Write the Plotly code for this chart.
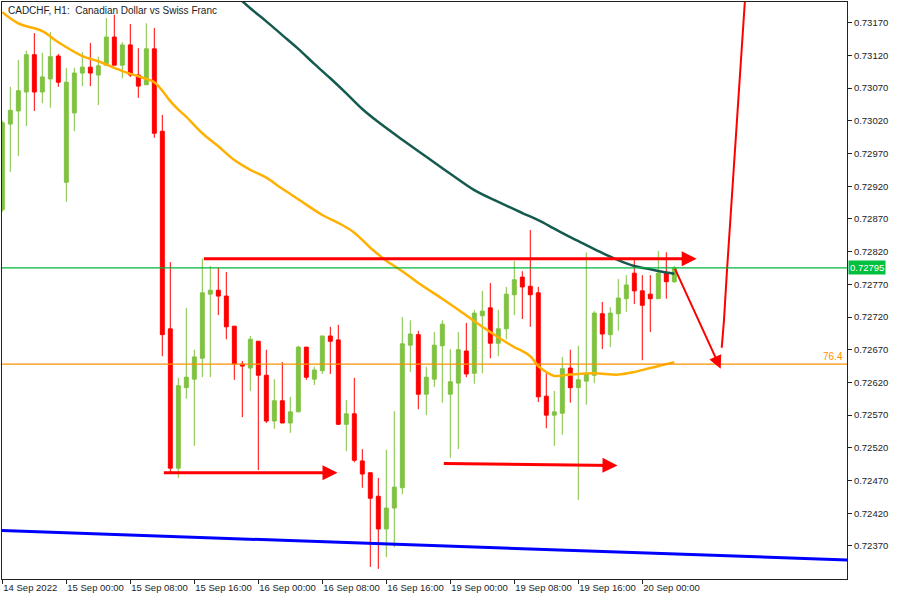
import plotly.graph_objects as go

# ---- data (bar index 0 = 14 Sep 2022 16:00, H1 bars) ----
bar_open = [0.72884,0.73015,0.73035,0.73064,0.73121,0.73064,0.73084,0.73119,0.72926,0.73032,
            0.73093,0.73102,0.73090,0.73105,0.73148,0.73105,0.73136,0.73090,0.73075,0.73130,
            0.73004,0.72702,0.72489,0.72612,0.72625,0.72657,0.72755,0.72761,0.72752,0.72706,
            0.72648,0.72642,0.72683,0.72631,0.72561,0.72592,0.72558,0.72575,0.72674,0.72625,
            0.72638,0.72691,0.72685,0.72556,0.72572,0.72500,0.72482,0.72446,0.72396,0.72428,
            0.72459,0.72677,0.72693,0.72602,0.72625,0.72676,0.72602,0.72619,0.72668,0.72634,
            0.72722,0.72734,0.72680,0.72702,0.72754,0.72781,0.72767,0.72757,0.72599,0.72570,
            0.72573,0.72642,0.72612,0.72622,0.72631,0.72725,0.72693,0.72725,0.72748,0.72787,
            0.72760,0.72755,0.72748,0.72787,0.72774]
bar_high = [0.73020,0.73072,0.73113,0.73127,0.73154,0.73124,0.73156,0.73122,0.73101,0.73101,
            0.73125,0.73139,0.73118,0.73177,0.73182,0.73140,0.73168,0.73131,0.73169,0.73162,
            0.73029,0.72804,0.72627,0.72734,0.72670,0.72809,0.72798,0.72795,0.72789,0.72706,
            0.72653,0.72691,0.72683,0.72670,0.72625,0.72651,0.72598,0.72676,0.72674,0.72644,
            0.72691,0.72705,0.72708,0.72593,0.72627,0.72518,0.72482,0.72474,0.72517,0.72576,
            0.72720,0.72715,0.72699,0.72644,0.72697,0.72715,0.72671,0.72697,0.72711,0.72731,
            0.72760,0.72772,0.72731,0.72766,0.72806,0.72790,0.72853,0.72766,0.72634,0.72607,
            0.72659,0.72670,0.72676,0.72819,0.72729,0.72743,0.72735,0.72778,0.72784,0.72807,
            0.72784,0.72784,0.72821,0.72819,0.72798]
bar_low = [0.72881,0.72942,0.72966,0.73012,0.73035,0.73047,0.73040,0.73072,0.72896,0.73004,
           0.73073,0.73073,0.73044,0.73104,0.73105,0.73085,0.73087,0.73055,0.73075,0.72994,
           0.72660,0.72482,0.72474,0.72595,0.72523,0.72628,0.72628,0.72723,0.72686,0.72624,
           0.72567,0.72607,0.72486,0.72558,0.72549,0.72558,0.72543,0.72575,0.72624,0.72616,
           0.72633,0.72633,0.72555,0.72515,0.72498,0.72459,0.72338,0.72335,0.72353,0.72368,
           0.72449,0.72636,0.72579,0.72570,0.72613,0.72589,0.72505,0.72518,0.72628,0.72618,
           0.72634,0.72657,0.72660,0.72686,0.72723,0.72717,0.72705,0.72590,0.72550,0.72523,
           0.72540,0.72589,0.72440,0.72586,0.72619,0.72671,0.72674,0.72699,0.72728,0.72740,
           0.72654,0.72697,0.72748,0.72748,0.72772]
bar_close = [0.73017,0.73036,0.73066,0.73121,0.73064,0.73087,0.73118,0.73079,0.73079,0.73093,
             0.73102,0.73093,0.73104,0.73148,0.73105,0.73136,0.73090,0.73073,0.73130,0.73001,
             0.72693,0.72489,0.72615,0.72628,0.72659,0.72757,0.72761,0.72752,0.72705,0.72648,
             0.72645,0.72686,0.72631,0.72561,0.72592,0.72558,0.72575,0.72674,0.72628,0.72639,
             0.72691,0.72683,0.72556,0.72572,0.72501,0.72480,0.72443,0.72396,0.72428,0.72460,
             0.72679,0.72694,0.72602,0.72628,0.72677,0.72709,0.72621,0.72670,0.72633,0.72726,
             0.72729,0.72680,0.72702,0.72755,0.72777,0.72766,0.72754,0.72598,0.72570,0.72575,
             0.72641,0.72612,0.72624,0.72633,0.72726,0.72694,0.72726,0.72749,0.72769,0.72760,
             0.72738,0.72748,0.72787,0.72774,0.72795]

ma_fast_idx = [0,2,5,7,10,12,15,17,18,19,20,21,22,23,25,27,29,31,33,35,37,40,42,44,46,48,50,52,
               55,57,60,62,64,65,66,67,68,69,71,74,77,79,81,83,84]
ma_fast_val = [0.73186,0.73169,0.73157,0.73140,0.73119,0.73111,0.73096,0.73088,0.73084,0.73079,
               0.73066,0.73050,0.73037,0.73026,0.73001,0.72981,0.72960,0.72945,0.72933,0.72916,
               0.72900,0.72876,0.72864,0.72849,0.72826,0.72806,0.72790,0.72772,0.72748,0.72731,
               0.72705,0.72689,0.72674,0.72668,0.72660,0.72645,0.72636,0.72630,0.72632,0.72634,
               0.72632,0.72636,0.72642,0.72648,0.72651]

ma_slow_idx = [29,31,33,35,37,39,41,43,45,47,50,53,56,59,62,65,67,69,71,73,75,77,79,81,83,84]
ma_slow_val = [0.73214,0.73192,0.73172,0.73151,0.73130,0.73107,0.73085,0.73062,0.73038,0.73018,
               0.72991,0.72965,0.72939,0.72914,0.72896,0.72879,0.72868,0.72855,0.72842,0.72830,
               0.72818,0.72807,0.72798,0.72793,0.72788,0.72786]

trend_idx = [-1, 107]
trend_val = [0.72394, 0.72348]

current_price = 0.72795
fib_level = 0.72648
fib_label = "76.4"

# user-drawn arrows: (tail_idx, tail_price, head_idx, head_price)
arrow_top = (25, 0.72809, 86.8, 0.72809)
arrow_low_left = (20, 0.72482, 41.9, 0.72482)
arrow_low_mid = (55, 0.72496, 76.9, 0.72493)
arrow_diag = (84.0, 0.72796, 89.8, 0.72641)
up_line_idx = [89.93, 90.21, 90.59, 93.0]
up_line_val = [0.72673, 0.72715, 0.72792, 0.73235]

tick_idx = [0, 8, 16, 24, 32, 40, 48, 56, 64, 72, 80]
tick_text = ["14 Sep 2022", "15 Sep 00:00", "15 Sep 08:00", "15 Sep 16:00", "16 Sep 00:00",
             "16 Sep 08:00", "16 Sep 16:00", "19 Sep 00:00", "19 Sep 08:00", "19 Sep 16:00",
             "20 Sep 00:00"]
price_ticks = [0.72370, 0.72420, 0.72470, 0.72520, 0.72570, 0.72620, 0.72670, 0.72720,
               0.72770, 0.72820, 0.72870, 0.72920, 0.72970, 0.73020, 0.73070, 0.73120, 0.73170]

title_text = "CADCHF, H1:\u00a0 Canadian Dollar vs Swiss Franc"

# ---- figure ----
FONT = "Liberation Sans, Arial, sans-serif"
GREEN_C = "#80C242"
RED_C = "#FF0000"
AX = "#222222"

fig = go.Figure()

fig.add_trace(go.Scatter(x=trend_idx, y=trend_val, mode="lines",
                         line=dict(color="#0000FF", width=3), hoverinfo="skip"))

fig.add_trace(go.Candlestick(
    x=list(range(len(bar_open))), open=bar_open, high=bar_high, low=bar_low, close=bar_close,
    increasing=dict(line=dict(color=GREEN_C, width=1), fillcolor=GREEN_C),
    decreasing=dict(line=dict(color=RED_C, width=1), fillcolor=RED_C),
    whiskerwidth=0, hoverinfo="skip"))

fig.add_trace(go.Scatter(x=ma_slow_idx, y=ma_slow_val, mode="lines", line_shape="spline",
                         line=dict(color="#145A4E", width=2.5), hoverinfo="skip"))
fig.add_trace(go.Scatter(x=ma_fast_idx, y=ma_fast_val, mode="lines", line_shape="spline",
                         line=dict(color="#FFB000", width=2.5), hoverinfo="skip"))
fig.add_trace(go.Scatter(x=up_line_idx, y=up_line_val, mode="lines",
                         line=dict(color=RED_C, width=2), hoverinfo="skip"))

fig.add_hline(y=current_price, line=dict(color="#00B43C", width=1.3))
fig.add_hline(y=fib_level, line=dict(color="#FF9000", width=1.3))

for (tx, ty, hx, hy), w in [(arrow_top, 3), (arrow_low_left, 3), (arrow_low_mid, 3), (arrow_diag, 2)]:
    fig.add_annotation(x=hx, y=hy, ax=tx, ay=ty, xref="x", yref="y", axref="x", ayref="y",
                       text="", showarrow=True, arrowhead=2, arrowsize=1.0 if w == 3 else 1.3,
                       arrowwidth=w, arrowcolor=RED_C, standoff=0, startstandoff=0)

fig.add_annotation(text=title_text, xref="paper", yref="paper", x=0, y=1, xanchor="left",
                   yanchor="top", xshift=4, yshift=-1, showarrow=False,
                   font=dict(family=FONT, size=10, color="#222222"))
fig.add_annotation(text="0.72795", xref="paper", yref="y", x=1, y=current_price, xanchor="left",
                   yanchor="middle", xshift=1, showarrow=False, bgcolor="#00C040",
                   borderpad=1, font=dict(family=FONT, size=9.5, color="white"))
fig.add_annotation(text=fib_label, xref="paper", yref="y", x=1, y=fib_level, xanchor="right",
                   yanchor="bottom", xshift=-2, yshift=0, showarrow=False,
                   font=dict(family=FONT, size=10, color="#FF9000"))

fig.update_layout(
    width=900, height=600, margin=dict(l=2, r=53, t=2, b=21, autoexpand=False),
    paper_bgcolor="white", plot_bgcolor="white", showlegend=False,
    font=dict(family=FONT, size=9.5, color="#222222"),
    boxgap=0.3, boxgroupgap=0.3,
)
fig.update_xaxes(range=[-0.04, 105.59], showgrid=False, zeroline=False, automargin=False,
                 showline=True, mirror=True, linecolor=AX, linewidth=1,
                 tickmode="array", tickvals=tick_idx, ticktext=tick_text, tickangle=0,
                 ticks="outside", ticklen=4, tickcolor=AX, ticklabelposition="outside right",
                 rangeslider=dict(visible=False), fixedrange=True)
fig.update_yaxes(range=[0.723195, 0.732016], side="right", showgrid=False, zeroline=False,
                 automargin=False, showline=True, mirror=True, linecolor=AX, linewidth=1,
                 tickmode="array", tickvals=price_ticks, tickformat=".5f",
                 ticks="outside", ticklen=4, tickcolor=AX, fixedrange=True)

fig.write_html("out.html", config={"displayModeBar": False},
               post_script="document.body.style.margin='0';document.body.style.overflow='hidden';")
